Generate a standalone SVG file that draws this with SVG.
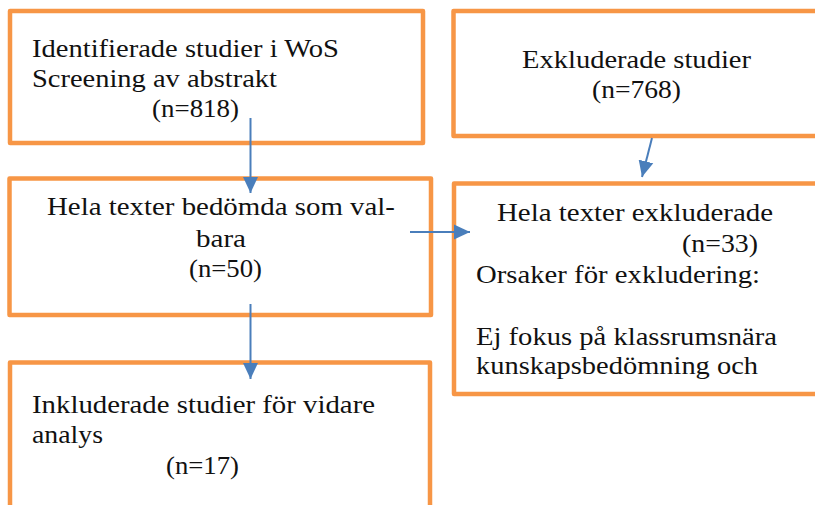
<svg xmlns="http://www.w3.org/2000/svg" width="815" height="505" viewBox="0 0 815 505">
<style>
.box{fill:#fff;stroke:#F79646;stroke-width:4.5;stroke-linejoin:round}
.t{font-size:26px;fill:#111}
.c{stroke:#4A7EBB;stroke-width:2;fill:none}
</style>
<defs>
<marker id="a" viewBox="0 0 16 16" refX="16" refY="8" markerWidth="16" markerHeight="16" markerUnits="userSpaceOnUse" orient="auto">
<path d="M0,0.5 L16,8 L0,15.5 Z" fill="#4A7EBB"/>
</marker>
</defs>
<rect width="815" height="505" fill="#fff"/>
<g font-family="Liberation Serif, DejaVu Serif, serif">
<g id="n1">
<rect class="box" x="10" y="11" width="413" height="132"/>
<text class="t" x="32" y="57" textLength="307" lengthAdjust="spacingAndGlyphs">Identifierade studier i WoS</text>
<text class="t" x="32" y="87" textLength="245" lengthAdjust="spacingAndGlyphs">Screening av abstrakt</text>
<text class="t" x="152" y="117" textLength="87" lengthAdjust="spacingAndGlyphs">(n=818)</text>
</g>
<g id="n2">
<rect class="box" x="453.5" y="11" width="380" height="125"/>
<text class="t" x="522" y="68" textLength="229" lengthAdjust="spacingAndGlyphs">Exkluderade studier</text>
<text class="t" x="592" y="98" textLength="89" lengthAdjust="spacingAndGlyphs">(n=768)</text>
</g>
<g id="n3">
<rect class="box" x="9.5" y="178.5" width="421.5" height="136.5"/>
<text class="t" x="47" y="215" textLength="348" lengthAdjust="spacingAndGlyphs">Hela texter bedömda som val-</text>
<text class="t" x="196" y="247" textLength="50" lengthAdjust="spacingAndGlyphs">bara</text>
<text class="t" x="189" y="277" textLength="73" lengthAdjust="spacingAndGlyphs">(n=50)</text>
</g>
<g id="n4">
<rect class="box" x="454" y="183.5" width="380" height="210.5"/>
<text class="t" x="497" y="221" textLength="276" lengthAdjust="spacingAndGlyphs">Hela texter exkluderade</text>
<text class="t" x="682" y="252" textLength="76" lengthAdjust="spacingAndGlyphs">(n=33)</text>
<text class="t" x="476" y="283" textLength="284" lengthAdjust="spacingAndGlyphs">Orsaker för exkludering:</text>
<text class="t" x="476" y="345" textLength="301" lengthAdjust="spacingAndGlyphs">Ej fokus på klassrumsnära</text>
<text class="t" x="476" y="374" textLength="282" lengthAdjust="spacingAndGlyphs">kunskapsbedömning och</text>
</g>
<g id="n5">
<rect class="box" x="10" y="362.5" width="420" height="160"/>
<text class="t" x="32" y="413" textLength="343" lengthAdjust="spacingAndGlyphs">Inkluderade studier för vidare</text>
<text class="t" x="32" y="443" textLength="71" lengthAdjust="spacingAndGlyphs">analys</text>
<text class="t" x="166" y="474" textLength="73" lengthAdjust="spacingAndGlyphs">(n=17)</text>
</g>
</g>
<g id="connectors">
<line class="c" x1="250.5" y1="118" x2="250.5" y2="193" marker-end="url(#a)"/>
<line class="c" x1="410" y1="232" x2="470" y2="232" marker-end="url(#a)"/>
<line class="c" x1="250.5" y1="304" x2="250.5" y2="379" marker-end="url(#a)"/>
<line class="c" x1="652" y1="138" x2="642" y2="177" marker-end="url(#a)"/>
</g>
</svg>
